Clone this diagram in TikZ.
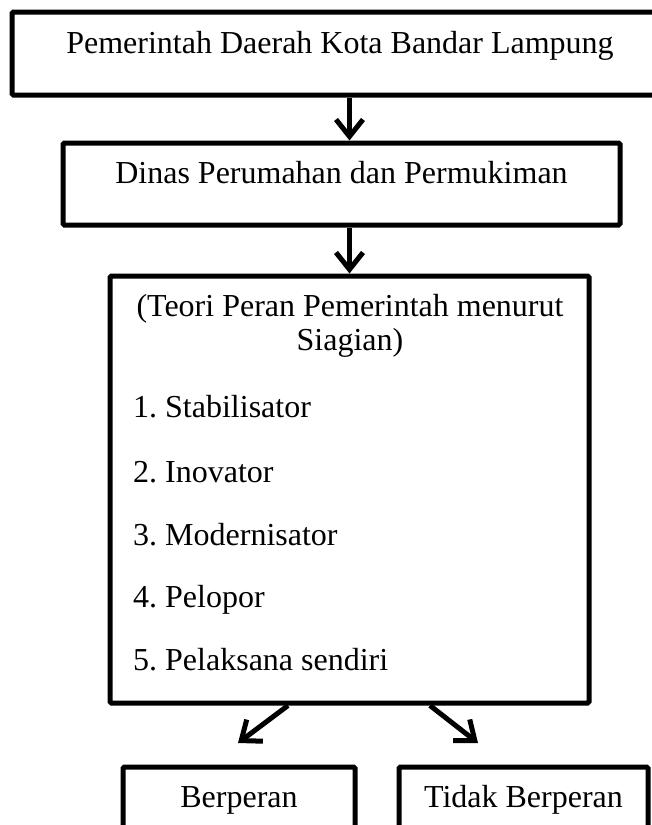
\documentclass[tikz,border=0pt]{standalone}
\usepackage{fontspec}
\setmainfont{Liberation Serif}
\usetikzlibrary{arrows.meta, positioning, calc}
\frenchspacing

\begin{document}
\begin{tikzpicture}[
  x=1pt, y=-1pt,
  box/.style={rectangle, draw, line width=5pt, rounded corners=1.5pt, inner sep=0pt, font=\fontsize{32}{34}\selectfont},
  item/.style={anchor=base west, inner sep=0pt, font=\fontsize{32}{34}\selectfont},
  arrow/.style={-{Straight Barb[length=17pt, width=27pt]}, line width=5pt}
]
  \useasboundingbox (0,0) rectangle (652,825);
  \clip (0,0) rectangle (652,825);

  \node[box, anchor=base, minimum width=656pt, text height=41pt, text depth=42pt] (pemda) at (340,53) {Pemerintah Daerah Kota Bandar Lampung};
  \node[box, anchor=base, minimum width=557pt, text height=40pt, text depth=42pt] (dinas) at (341.5,183) {Dinas Perumahan dan Permukiman};
  \node[box, minimum width=479pt, minimum height=427pt] (teori) at (349.5,489.5) {};

  \node[anchor=base, align=center, inner sep=0pt, font=\fontsize{32}{33.5}\selectfont] (judul) at (350,350) {(Teori Peran Pemerintah menurut\\Siagian)};
  \node[item] (stab) at (133,417) {1. Stabilisator};
  \node[item] (inov) at (133,482) {2. Inovator};
  \node[item] (modern) at (133,545) {3. Modernisator};
  \node[item] (pelopor) at (133,607) {4. Pelopor};
  \node[item] (pelaksana) at (133,670) {5. Pelaksana sendiri};

  \node[box, anchor=base, minimum width=232pt, text height=40pt, text depth=50pt] (berperan) at (239,807) {Berperan};
  \node[box, anchor=base, minimum width=249pt, text height=40pt, text depth=50pt] (tidak) at (523.5,807) {Tidak Berperan};

  \coordinate (tipL) at (238,743);
  \coordinate (tipR) at (478,743);

  \draw[arrow] (pemda.south -| teori.north) -- (dinas.north -| teori.north);
  \draw[arrow] (dinas.south -| teori.north) -- (teori.north);
  \draw[arrow] ($(teori.south)+(-61.5,0)$) -- (tipL);
  \draw[arrow] ($(teori.south)+(80.5,0)$) -- (tipR);
\end{tikzpicture}
\end{document}
